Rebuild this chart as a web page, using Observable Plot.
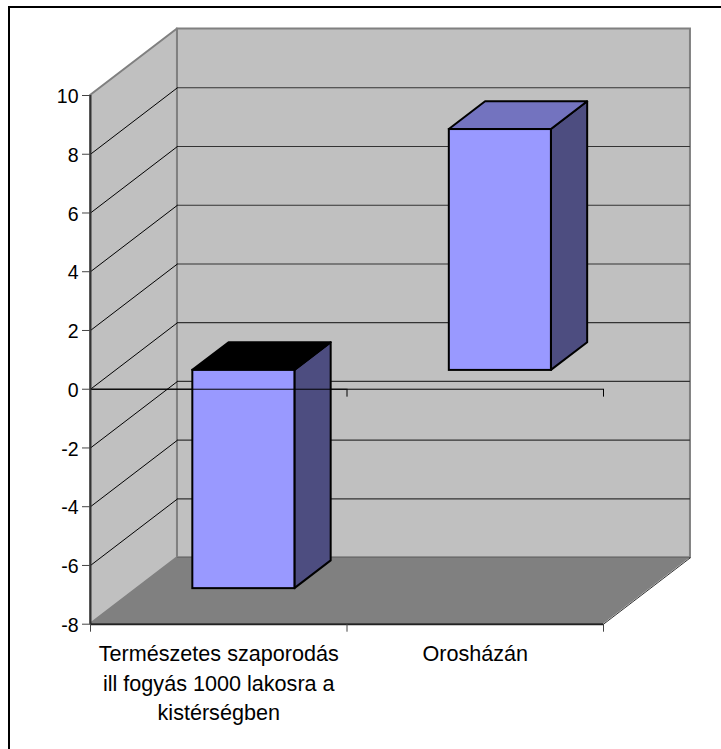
<!DOCTYPE html>
<html>
<head>
<meta charset="utf-8">
<script src="https://cdn.jsdelivr.net/npm/d3@7"></script>
<script src="https://cdn.jsdelivr.net/npm/@observablehq/plot@0.6"></script>
<style>
html, body { margin: 0; padding: 0; background: #fff; overflow: hidden; }
#chart { position: absolute; left: 0; top: 0; width: 721px; height: 749px; }
#frame { position: absolute; left: 8px; top: 6px; width: 713px; height: 743px; border-left: 2px solid #000; border-top: 2px solid #000; box-sizing: border-box; }
</style>
</head>
<body>
<div id="chart"></div>
<div id="frame"></div>
<script>
const categories = ["Természetes szaporodás\nill fogyás 1000 lakosra a\nkistérségben", "Orosházán"];
const values = [-7.43, 8.2];
const yTicks = [-8, -6, -4, -2, 0, 2, 4, 6, 8, 10];
const xTicks = [0, 1, 2];
const yMin = -8, yMax = 10;

// Oblique depth of the 3D box, expressed in axis units
const depthX = 0.339, depthY = 2.264;
// Bar layout within a category slot, and within the depth of the box
const barInset = 0.303, barWidth = 0.398, depthFront = 0.283, depthBack = 0.7;

const off = (d) => ({dx: d * depthX, dy: d * depthY});
const f = off(depthFront), b = off(depthBack);

const bars = values.map((v, i) => ({
  i, v,
  x0: i + barInset + f.dx,
  x1: i + barInset + barWidth + f.dx,
  y0: f.dy,
  y1: v + f.dy
}));
const sides = bars.flatMap((d) => [
  {i: d.i, x: d.x1, y1: d.y0, y2: d.y1},
  {i: d.i, x: d.x1 - f.dx + b.dx, y1: d.y0 - f.dy + b.dy, y2: d.y1 - f.dy + b.dy}
]);
const tops = bars.flatMap((d) => {
  const top = Math.max(d.y0, d.y1), base = top - f.dy;
  const colour = d.v < 0 ? "#000000" : "#7373bf";
  return [
    {i: d.i, colour, y: top, x1: d.x0, x2: d.x1},
    {i: d.i, colour, y: base + b.dy, x1: d.x0 - f.dx + b.dx, x2: d.x1 - f.dx + b.dx}
  ];
});

const leftWall = [
  {x: 0, y1: yMin, y2: yMax},
  {x: depthX, y1: yMin + depthY, y2: yMax + depthY}
];
const floor = [
  {y: yMin, x1: 0, x2: 2},
  {y: yMin + depthY, x1: depthX, x2: 2 + depthX}
];
const backWall = [{x1: depthX, x2: 2 + depthX, y1: yMin + depthY, y2: yMax + depthY}];
const wallGrid = yTicks.slice(1, -1).map((y) => ({y, a: 0, b: depthX, yb: y + depthY}));
const backGrid = yTicks.slice(0, -1).map((y) => y + depthY);
const labels = categories.map((text, i) => ({text, x: i + 0.5}));

const font = "Liberation Sans, Arial, sans-serif";
const chart = Plot.plot({
  width: 721,
  height: 749,
  marginLeft: 90,
  marginRight: 118,
  marginTop: 95,
  marginBottom: 125.3,
  style: {background: "transparent", fontFamily: font, overflow: "visible"},
  x: {domain: [0, 2], axis: null},
  y: {domain: [yMin, yMax], axis: null},
  marks: [
    Plot.rect(backWall, {x1: "x1", x2: "x2", y1: "y1", y2: "y2", fill: "#c0c0c0", stroke: "#808080", strokeWidth: 2}),
    Plot.areaY(leftWall, {x: "x", y1: "y1", y2: "y2", fill: "#c0c0c0", stroke: "#808080", strokeWidth: 2}),
    Plot.ruleY(backGrid, {x1: depthX, x2: 2 + depthX, stroke: "#333", strokeWidth: 1.2}),
    Plot.link(wallGrid, {x1: "a", x2: "b", y1: "y", y2: "yb", stroke: "#000", strokeWidth: 1}),
    Plot.areaX(floor, {y: "y", x1: "x1", x2: "x2", fill: "#808080"}),
    Plot.link([{a: 2, b: 2 + depthX}], {x1: "a", x2: "b", y1: () => yMin, y2: () => yMin + depthY, stroke: "#333", strokeWidth: 1}),
    // category axis at zero, behind the taller bar
    Plot.ruleY([0], {x1: 0, x2: 2, stroke: "#000", strokeWidth: 1}),
    Plot.ruleX(xTicks.slice(1), {y1: 0, y2: -0.27, stroke: "#000", strokeWidth: 1}),
    // bars
    Plot.areaY(sides, {x: "x", y1: "y1", y2: "y2", z: "i", fill: "#4d4d80", stroke: "#000", strokeWidth: 2}),
    Plot.areaX(tops, {y: "y", x1: "x1", x2: "x2", z: "i", fill: "colour", stroke: "#000", strokeWidth: 2}),
    Plot.rect(bars, {x1: "x0", x2: "x1", y1: "y0", y2: "y1", fill: "#9999ff", stroke: "#000", strokeWidth: 2}),
    // zero line passes in front of the bars
    Plot.ruleY([0], {x1: 0, x2: 1, stroke: "#000", strokeWidth: 1}),
    // axes
    Plot.ruleX([0], {y1: yMin, y2: yMax, stroke: "#333", strokeWidth: 2}),
    Plot.ruleY([yMin], {x1: 0, x2: 2, stroke: "#222", strokeWidth: 2}),
    Plot.axisY({ticks: yTicks, tickFormat: () => "", tickSize: 8, label: null, stroke: "#444"}),
    Plot.text(yTicks, {x: () => 0, y: (d) => d, text: (d) => String(d), dx: -12, dy: 1.5, textAnchor: "end", fontSize: 19.5, fill: "#000"}),
    Plot.axisX({ticks: xTicks, tickFormat: () => "", tickSize: 8, label: null, anchor: "bottom", stroke: "#444"}),
    Plot.text(labels, {x: "x", y: () => yMin, text: "text", dy: 15.5, lineAnchor: "top", lineHeight: 1.38, fontSize: 21.6, fill: "#000", textAnchor: "middle"})
  ]
});
document.getElementById("chart").appendChild(chart);
</script>
</body>
</html>
